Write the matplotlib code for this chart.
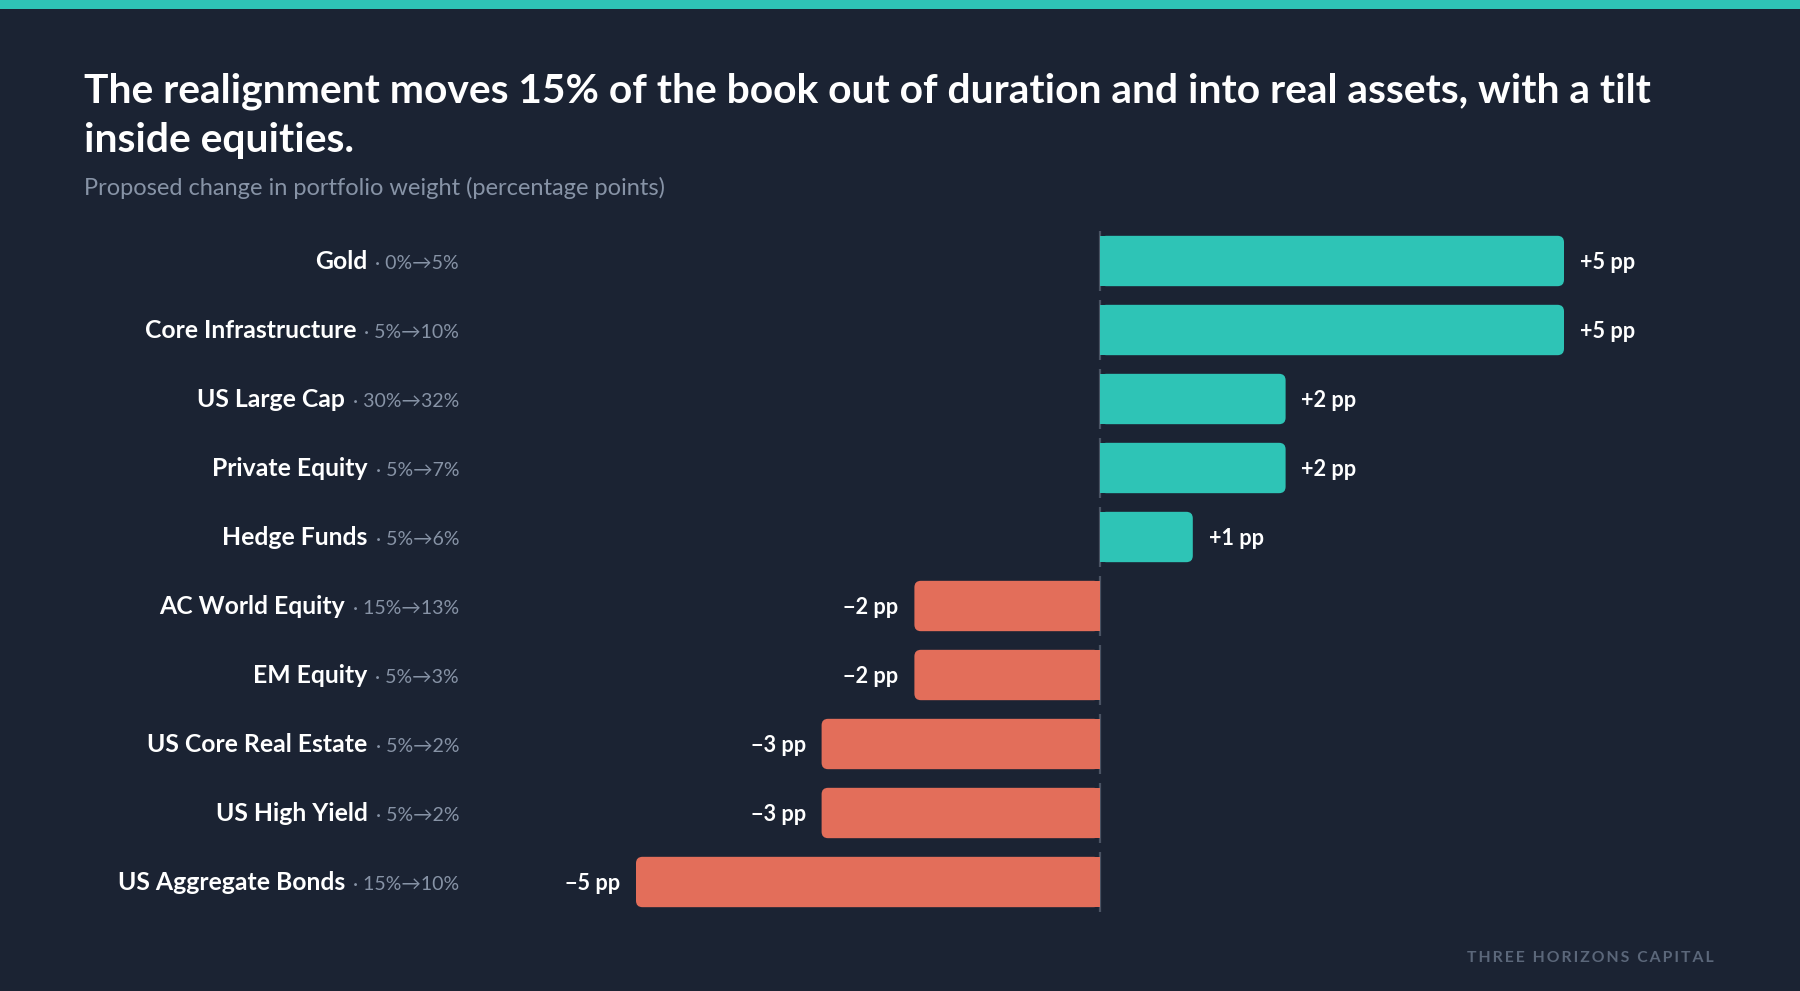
import numpy as np
import matplotlib
matplotlib.use("Agg")
from matplotlib import pyplot as plt
from matplotlib.patches import FancyBboxPatch, Rectangle

plt.rcParams["font.family"] = ["Lato", "DejaVu Sans"]

BG = "#1b2333"
TEAL = "#2ec4b6"
CORAL = "#e36e5a"
GRID = "#4a5363"
MUTED = "#8793a6"
FOOT = "#5b677a"

assets = ["Gold", "Core Infrastructure", "US Large Cap", "Private Equity", "Hedge Funds",
          "AC World Equity", "EM Equity", "US Core Real Estate", "US High Yield",
          "US Aggregate Bonds"]
weight_from = [0, 5, 30, 5, 5, 15, 5, 5, 5, 15]
weight_to = [5, 10, 32, 7, 6, 13, 3, 2, 2, 10]
change = [5, 5, 2, 2, 1, -2, -2, -3, -3, -5]

W, H = 1800, 991
fig = plt.figure(figsize=(W / 100, H / 100), dpi=100, facecolor=BG)

# axes placed so that 0 sits at x=1100px and 1pp = ~92.8px
px_per_pp = 92.8
x0_px = 1100
xmin, xmax = -6, 6
row_px = 69
top_px = 261 - row_px / 2
ax = fig.add_axes([(x0_px + xmin * px_per_pp) / W,
                   (H - top_px - len(assets) * row_px) / H,
                   (xmax - xmin) * px_per_pp / W,
                   len(assets) * row_px / H])
ax.set_facecolor(BG)
ax.set_xlim(xmin, xmax)
ax.set_ylim(len(assets) - 0.5, -0.5)
ax.axis("off")

bar_h = 0.73
aspect = px_per_pp / row_px
for i, v in enumerate(change):
    color = TEAL if v > 0 else CORAL
    # zero line segment for this row
    ax.plot([0, 0], [i - 0.44, i + 0.44], color=GRID, lw=1.6, zorder=1,
            solid_capstyle="butt")
    left = min(0, v)
    ax.add_patch(FancyBboxPatch((left, i - bar_h / 2), abs(v), bar_h,
                                boxstyle="round,pad=0,rounding_size=0.07",
                                mutation_aspect=aspect, fc=color, ec="none", zorder=2))
    # square off the end that sits on zero
    ax.add_patch(Rectangle((v / 2 if v < 0 else 0, i - bar_h / 2), abs(v) / 2, bar_h,
                           fc=color, ec="none", zorder=2))
    lab = ("+%d pp" % v) if v > 0 else ("\u2212%d pp" % abs(v))
    off = 0.17
    ax.text(v + off if v > 0 else v - off, i + 0.11, lab,
            ha="left" if v > 0 else "right", va="baseline",
            color="white", fontsize=15.6, fontweight="bold")

# category labels: bold name + muted weights, right-aligned at x=459px
fig.canvas.draw()
renderer = fig.canvas.get_renderer()
lab_x = (459 - x0_px) / px_per_pp
for i, name in enumerate(assets):
    t = ax.text(lab_x, i + 0.11, " \u00b7 %d%%\u2192%d%%" % (weight_from[i], weight_to[i]),
                ha="right", va="baseline", color=MUTED, fontsize=14, clip_on=False)
    bb = t.get_window_extent(renderer)
    name_x = ax.transData.inverted().transform((bb.x0, 0))[0]
    ax.text(name_x - 0.03, i + 0.11, name, ha="right", va="baseline", color="white",
            fontsize=17.8, fontweight="bold", clip_on=False)

# top accent bar
fig.add_artist(Rectangle((0, 1 - 9 / H), 1, 9 / H, transform=fig.transFigure,
                         fc=TEAL, ec="none"))

fig.text(84 / W, 1 - 103 / H,
         "The realignment moves 15% of the book out of duration and into real assets, with a tilt",
         ha="left", va="baseline", color="white", fontsize=29.3, fontweight="bold")
fig.text(84 / W, 1 - 152 / H, "inside equities.",
         ha="left", va="baseline", color="white", fontsize=29.3, fontweight="bold")
fig.text(84 / W, 1 - 195 / H, "Proposed change in portfolio weight (percentage points)",
         ha="left", va="baseline", color=MUTED, fontsize=17)

fig.text(1714 / W, 1 - 962 / H, "\u2009".join("THREE HORIZONS CAPITAL"),
         ha="right", va="baseline", color=FOOT, fontsize=11.3, fontweight="bold")

fig.savefig("out.png", dpi=100, facecolor=BG)
